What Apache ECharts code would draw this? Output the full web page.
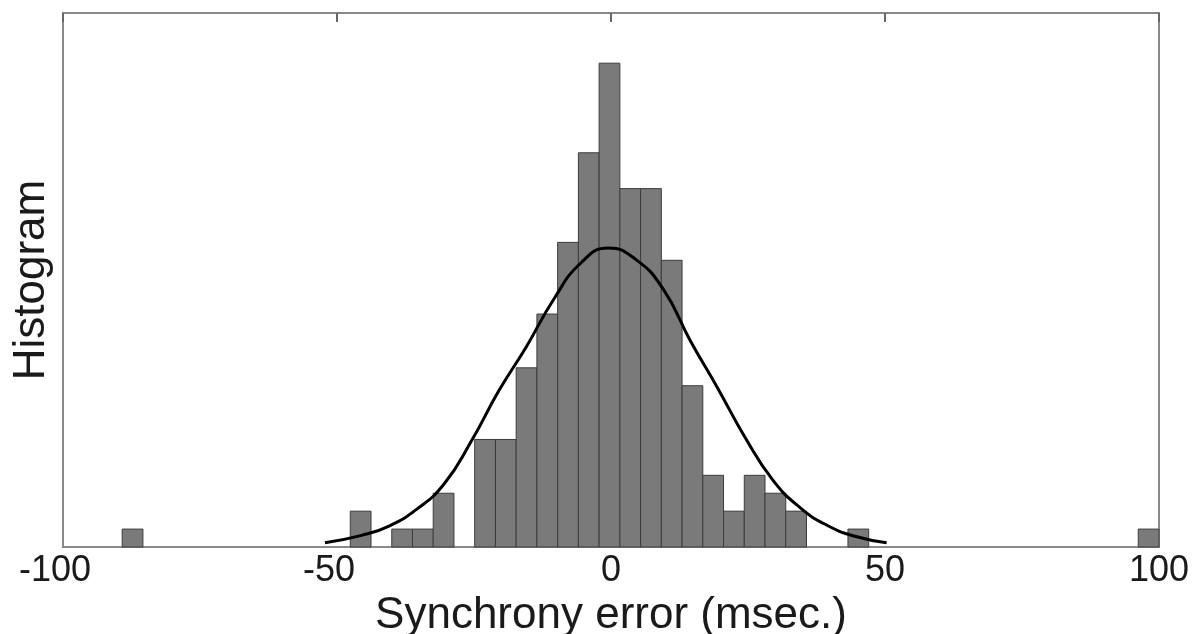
<!DOCTYPE html>
<html>
<head>
<meta charset="utf-8">
<script src="https://cdn.jsdelivr.net/npm/echarts@6/dist/echarts.min.js"></script>
<style>
html,body{margin:0;padding:0;background:#fff;}
#chart{width:1194px;height:634px;}
</style>
</head>
<body>
<div id="chart"></div>
<script>
// Histogram: 50 equal bins spanning the data range
const binStart = -89.2;
const binEnd = 100;
const counts = [
  1,0,0,0,0,0,0,0,0,0,
  0,2,0,1,1,3,0,6,6,10,
  13,17,22,27,20,20,16,9,4,2,
  4,3,2,0,0,1,0,0,0,0,
  0,0,0,0,0,0,0,0,0,1
];
// Fitted normal curve
const curveX = [-52.2,-45.5,-40.5,-35.5,-30.5,-25.5,-20.5,-15.5,-10.5,-5.5,-0.5,4.5,9.5,14.5,19.5,24.5,29.5,34.5,39.5,44.5,50.3];
const curveY = [0.24,0.65,1.17,2.1,3.5,5.9,8.7,11.15,13.8,15.85,16.68,16.05,14.4,11.5,8.85,6.1,3.75,2.2,1.2,0.6,0.24];
const xTicks = [-100, -50, 0, 50, 100];
const xName = 'Synchrony error (msec.)';
const yName = 'Histogram';

const binW = (binEnd - binStart) / counts.length;
const barData = counts.map((c, i) => [binStart + i * binW, binStart + (i + 1) * binW, c]).filter(d => d[2] > 0);
const lineData = curveX.map((x, i) => [x, curveY[i]]);

const chart = echarts.init(document.getElementById('chart'));
const font = '"Liberation Sans", Arial, sans-serif';
chart.setOption({
  animation: false,
  backgroundColor: '#fff',
  grid: {left: 63, right: 35, top: 13, bottom: 87, show: true, borderColor: '#8a8a8a', borderWidth: 2,
         backgroundColor: 'transparent', containLabel: false, outerBoundsMode: 'none'},
  xAxis: [{
    type: 'value', min: xTicks[0], max: xTicks[xTicks.length-1], interval: 50,
    position: 'bottom',
    axisLine: {show: false},
    axisTick: {show: false},
    splitLine: {show: false},
    axisLabel: {
      fontFamily: font, fontSize: 36, color: '#1a1a1a', margin: 6,
      formatter: v => v < 0 ? '{n|' + v + '}' : String(v),
      rich: {n: {fontFamily: font, fontSize: 36, color: '#1a1a1a', padding: [0, 16, 0, 0]}}
    },
    name: xName, nameLocation: 'middle', nameGap: 37,
    nameTextStyle: {fontFamily: font, fontSize: 44, color: '#1a1a1a'}
  }, {
    type: 'value', min: xTicks[0], max: xTicks[xTicks.length-1], interval: 50,
    position: 'top',
    axisLine: {show: false},
    axisTick: {show: true, inside: true, length: 9, lineStyle: {color: '#666', width: 2}},
    axisLabel: {show: false},
    splitLine: {show: false}
  }],
  yAxis: {
    type: 'value', min: 0, max: 29.8,
    axisLine: {show: false}, axisTick: {show: false}, axisLabel: {show: false}, splitLine: {show: false},
    name: yName, nameLocation: 'middle', nameGap: 9, nameRotate: 90,
    nameTextStyle: {fontFamily: font, fontSize: 44, color: '#1a1a1a'}
  },
  series: [{
    type: 'custom',
    xAxisIndex: 0,
    data: barData,
    renderItem: function (params, api) {
      const p0 = api.coord([api.value(0), api.value(2)]);
      const p1 = api.coord([api.value(1), 0]);
      return {
        type: 'rect',
        shape: {x: p0[0], y: p0[1], width: p1[0] - p0[0], height: p1[1] - p0[1]},
        style: {fill: '#7a7a7a', stroke: '#3c3c3c', lineWidth: 1}
      };
    },
    z: 2
  }, {
    type: 'line',
    xAxisIndex: 0,
    data: lineData,
    smooth: 0.5,
    showSymbol: false,
    lineStyle: {color: '#000', width: 3},
    z: 3
  }]
});
</script>
</body>
</html>
